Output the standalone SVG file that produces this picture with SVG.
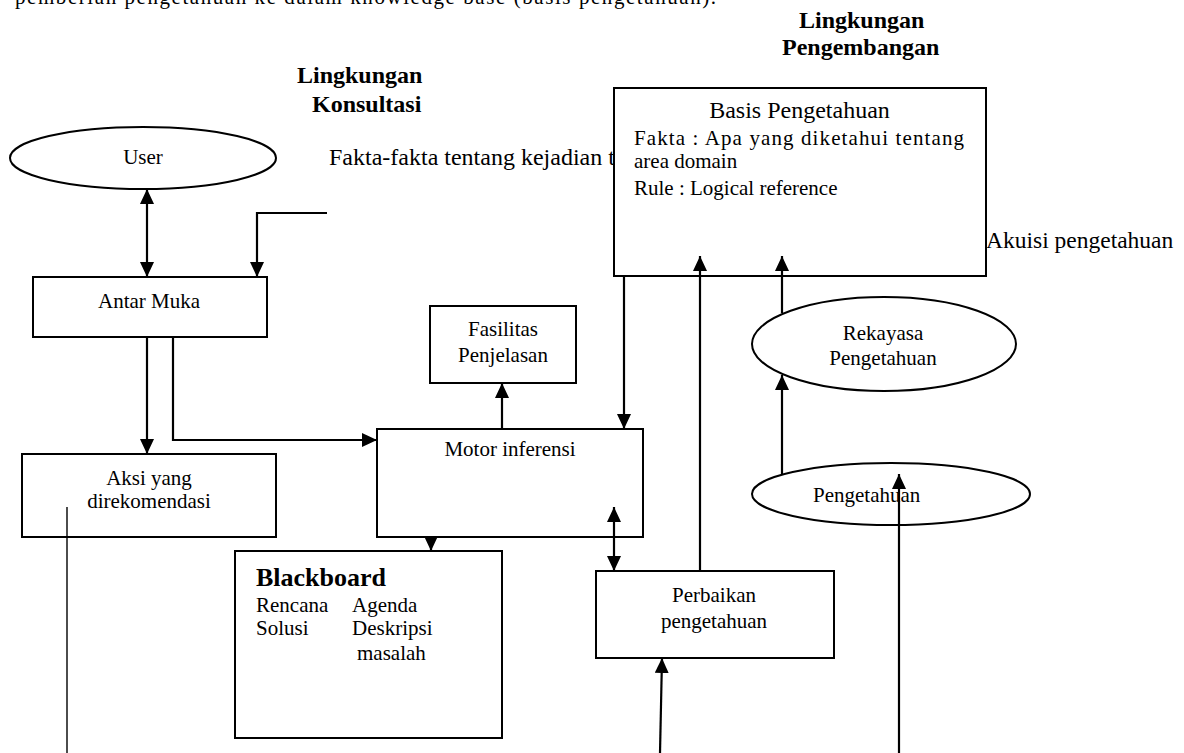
<svg xmlns="http://www.w3.org/2000/svg" width="1184" height="753" viewBox="0 0 1184 753">
<style>
text{font-family:"Liberation Serif","Times New Roman",serif;fill:#000}
.n{font-size:21px}
.c{text-anchor:middle}
.h{font-weight:bold;font-size:24px}
.s24{font-size:24px}
.s235{font-size:23.5px}
.bb{font-weight:bold;font-size:26px}
.box{fill:#fff;stroke:#000;stroke-width:2}
.ln{fill:none;stroke:#000;stroke-width:2.2}
.thin{fill:none;stroke:#000;stroke-width:1.4}
</style>
<defs>
<marker id="ah" markerUnits="userSpaceOnUse" markerWidth="15" markerHeight="14" refX="15" refY="7" orient="auto-start-reverse" viewBox="0 0 15 14">
<path d="M0,0 L15,7 L0,14 z" fill="#000"/>
</marker>
</defs>
<rect width="1184" height="753" fill="#fff"/>

<text class="n" x="15" y="4" textLength="701" lengthAdjust="spacing">pemberian pengetahuan ke dalam knowledge base (basis pengetahuan).</text>

<g id="label-konsultasi">
<text class="h" x="297" y="83">Lingkungan</text>
<text class="h" x="312" y="112">Konsultasi</text>
</g>
<g id="label-pengembangan">
<text class="h" x="799" y="28">Lingkungan</text>
<text class="h" x="782" y="55">Pengembangan</text>
</g>

<g id="fakta-label">
<text class="s24" x="329" y="165">Fakta-fakta tentang kejadian t</text>
</g>
<g id="akuisi-label">
<text class="s235" x="986" y="248">Akuisi pengetahuan</text>
</g>

<g id="basis">
<rect class="box" x="614" y="88" width="372" height="188"/>
<text class="c s24" x="799.5" y="118">Basis Pengetahuan</text>
<text class="n" x="634" y="145" textLength="330" lengthAdjust="spacing">Fakta : Apa yang diketahui tentang</text>
<text class="n" x="634" y="168">area domain</text>
<text class="n" x="634" y="195">Rule : Logical reference</text>
</g>

<g id="user">
<ellipse class="box" cx="143" cy="158" rx="133" ry="31"/>
<text class="n c" x="143" y="164">User</text>
</g>

<g id="antarmuka">
<rect class="box" x="33" y="277" width="234" height="60"/>
<text class="n c" x="149" y="308">Antar Muka</text>
</g>

<g id="aksi">
<rect class="box" x="22" y="454" width="254" height="83"/>
<text class="n c" x="149" y="485">Aksi yang</text>
<text class="n c" x="149" y="508">direkomendasi</text>
</g>

<g id="fasilitas">
<rect class="box" x="430" y="306" width="146" height="77"/>
<text class="n c" x="503" y="336">Fasilitas</text>
<text class="n c" x="503" y="362">Penjelasan</text>
</g>

<g id="motor">
<rect class="box" x="377" y="429" width="266" height="108"/>
<text class="n c" x="510" y="456">Motor inferensi</text>
</g>

<g id="blackboard">
<rect class="box" x="235" y="551" width="267" height="187"/>
<text class="bb" x="256" y="586">Blackboard</text>
<text class="n" x="256" y="612">Rencana</text>
<text class="n" x="352" y="612">Agenda</text>
<text class="n" x="256" y="635">Solusi</text>
<text class="n" x="352" y="635">Deskripsi</text>
<text class="n" x="357" y="660">masalah</text>
</g>

<g id="perbaikan">
<rect class="box" x="596" y="571" width="238" height="87"/>
<text class="n c" x="714" y="602">Perbaikan</text>
<text class="n c" x="714" y="628">pengetahuan</text>
</g>

<g id="rekayasa">
<ellipse class="box" cx="884" cy="344" rx="132" ry="47"/>
<text class="n c" x="883" y="340">Rekayasa</text>
<text class="n c" x="883" y="365">Pengetahuan</text>
</g>

<g id="pengetahuan">
<ellipse class="box" cx="891" cy="494" rx="139" ry="31"/>
<text class="n" x="813" y="502">Pengetahuan</text>
</g>

<g id="connectors">
<line class="ln" x1="147" y1="189" x2="147" y2="277" marker-start="url(#ah)" marker-end="url(#ah)"/>
<polyline class="ln" points="327,213 257,213 257,277" marker-end="url(#ah)"/>
<line class="ln" x1="147" y1="337" x2="147" y2="454" marker-end="url(#ah)"/>
<polyline class="ln" points="173,337 173,440 377,440" marker-end="url(#ah)"/>
<line class="thin" x1="67" y1="507" x2="67" y2="753"/>
<line class="ln" x1="502" y1="429" x2="502" y2="383" marker-end="url(#ah)"/>
<line class="ln" x1="624" y1="276" x2="624" y2="429" marker-end="url(#ah)"/>
<line class="ln" x1="431" y1="537" x2="431" y2="551" marker-end="url(#ah)"/>
<line class="ln" x1="614" y1="507" x2="614" y2="571" marker-start="url(#ah)" marker-end="url(#ah)"/>
<line class="ln" x1="700" y1="571" x2="700" y2="256" marker-end="url(#ah)"/>
<line class="ln" x1="782" y1="313" x2="782" y2="256" marker-end="url(#ah)"/>
<line class="ln" x1="782" y1="475" x2="782" y2="375" marker-end="url(#ah)"/>
<line class="ln" x1="899" y1="753" x2="899" y2="474" marker-end="url(#ah)"/>
<line class="ln" x1="660" y1="753" x2="662" y2="658" marker-end="url(#ah)"/>
</g>
</svg>
